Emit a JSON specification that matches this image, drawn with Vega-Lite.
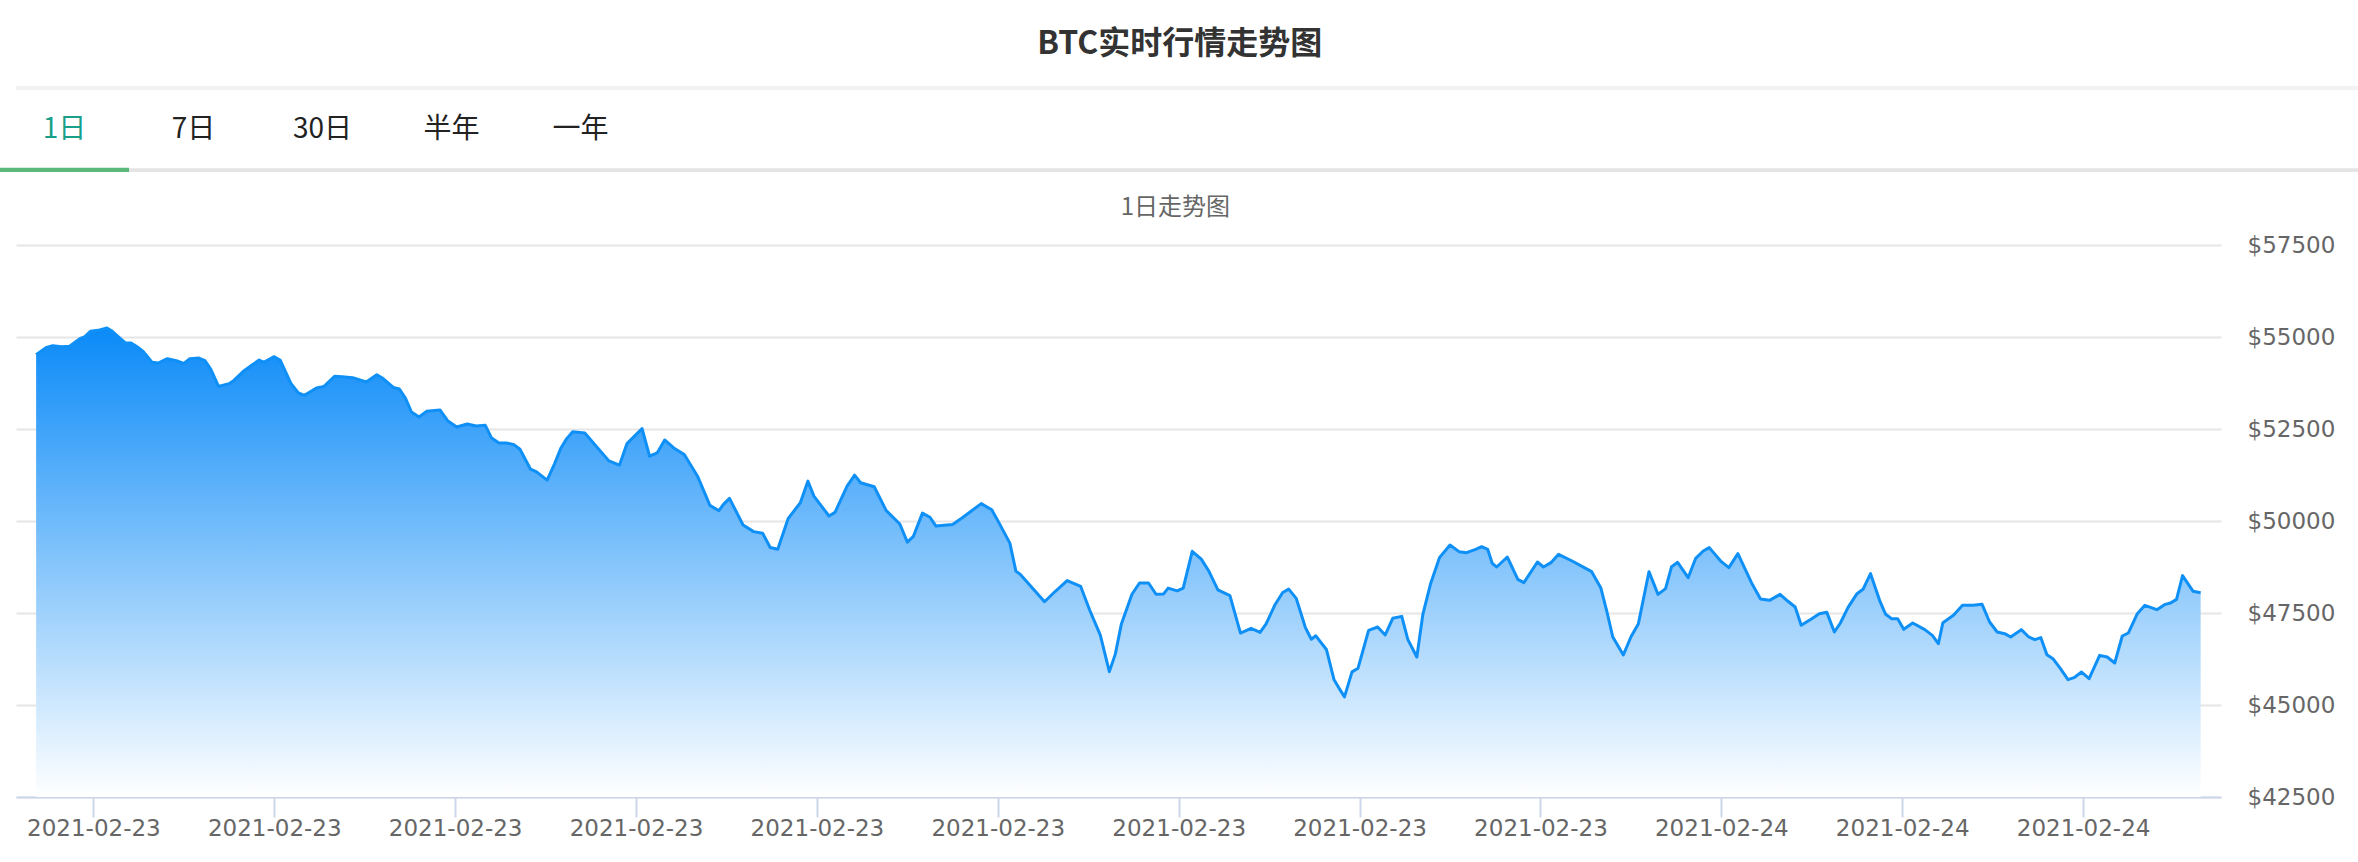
{
  "$schema": "https://vega.github.io/schema/vega-lite/v6.json",
  "background": "#ffffff",
  "padding": {"left": 0, "top": 27, "right": 0, "bottom": 0},
  "config": {"view": {"stroke": null}},
  "title": {"text": "BTC实时行情走势图", "font": "Noto Sans CJK SC", "fontSize": 32, "fontWeight": "bold", "color": "#333333", "anchor": "middle", "offset": 26},
  "spacing": 24,
  "vconcat": [
    {
      "width": 2342,
      "height": 84,
      "data": {"values": [
        {"tab": "1日", "selected": true},
        {"tab": "7日", "selected": false},
        {"tab": "30日", "selected": false},
        {"tab": "半年", "selected": false},
        {"tab": "一年", "selected": false}
      ]},
      "layer": [
        {"mark": {"type": "rule", "color": "#f2f2f2", "strokeWidth": 3},
         "encoding": {"y": {"datum": 1, "type": "quantitative", "scale": {"domain": [0, 1]}, "axis": null}}},
        {"mark": {"type": "rule", "color": "#e4e4e4", "strokeWidth": 3},
         "encoding": {"y": {"datum": 0.02, "type": "quantitative", "scale": {"domain": [0, 1]}, "axis": null}}},
        {"transform": [{"filter": "datum.selected"}],
         "mark": {"type": "bar", "color": "#5cb87a"},
         "encoding": {
           "x": {"field": "tab", "type": "nominal", "scale": {"domain": ["1日", "7日", "30日", "半年", "一年"], "range": [-16, 629], "paddingInner": 0, "paddingOuter": 0}, "axis": null},
           "y": {"datum": 0, "type": "quantitative", "scale": {"domain": [0, 1]}, "axis": null},
           "y2": {"datum": 0.05}
         }},
        {"mark": {"type": "text", "font": "Noto Sans CJK SC", "fontSize": 28},
         "encoding": {
           "x": {"field": "tab", "type": "nominal", "scale": {"domain": ["1日", "7日", "30日", "半年", "一年"], "range": [-16, 629], "paddingInner": 0, "paddingOuter": 0}, "axis": null},
           "text": {"field": "tab"},
           "color": {"condition": {"test": "datum.selected", "value": "#1aa08a"}, "value": "#222222"}
         }}
      ]
    },
    {
      "width": 2205,
      "height": 552,
      "title": {"text": "1日走势图", "font": "Noto Sans CJK SC", "fontSize": 24, "fontWeight": "normal", "color": "#666666", "anchor": "middle", "frame": "bounds", "offset": 14},
      "data": {"values": [
{"t":"2021-02-23T05:22","p":54520},{"t":"2021-02-23T05:29","p":54719},{"t":"2021-02-23T05:33","p":54764},{"t":"2021-02-23T05:39","p":54737},{"t":"2021-02-23T05:44","p":54746},{"t":"2021-02-23T05:51","p":54955},{"t":"2021-02-23T05:54","p":55000},{"t":"2021-02-23T05:58","p":55154},{"t":"2021-02-23T06:03","p":55181},{"t":"2021-02-23T06:09","p":55245},{"t":"2021-02-23T06:12","p":55172},{"t":"2021-02-23T06:17","p":54991},{"t":"2021-02-23T06:21","p":54846},{"t":"2021-02-23T06:25","p":54837},{"t":"2021-02-23T06:29","p":54737},{"t":"2021-02-23T06:33","p":54610},{"t":"2021-02-23T06:39","p":54311},{"t":"2021-02-23T06:43","p":54293},{"t":"2021-02-23T06:49","p":54411},{"t":"2021-02-23T06:55","p":54357},{"t":"2021-02-23T07:00","p":54284},{"t":"2021-02-23T07:04","p":54411},{"t":"2021-02-23T07:10","p":54429},{"t":"2021-02-23T07:14","p":54357},{"t":"2021-02-23T07:18","p":54112},{"t":"2021-02-23T07:23","p":53659},{"t":"2021-02-23T07:30","p":53732},{"t":"2021-02-23T07:33","p":53813},{"t":"2021-02-23T07:40","p":54085},{"t":"2021-02-23T07:45","p":54230},{"t":"2021-02-23T07:50","p":54375},{"t":"2021-02-23T07:53","p":54311},{"t":"2021-02-23T08:00","p":54465},{"t":"2021-02-23T08:04","p":54366},{"t":"2021-02-23T08:11","p":53741},{"t":"2021-02-23T08:16","p":53478},{"t":"2021-02-23T08:20","p":53414},{"t":"2021-02-23T08:28","p":53614},{"t":"2021-02-23T08:33","p":53659},{"t":"2021-02-23T08:40","p":53931},{"t":"2021-02-23T08:45","p":53922},{"t":"2021-02-23T08:52","p":53895},{"t":"2021-02-23T09:01","p":53777},{"t":"2021-02-23T09:08","p":53976},{"t":"2021-02-23T09:12","p":53877},{"t":"2021-02-23T09:19","p":53632},{"t":"2021-02-23T09:23","p":53587},{"t":"2021-02-23T09:27","p":53342},{"t":"2021-02-23T09:31","p":52962},{"t":"2021-02-23T09:36","p":52826},{"t":"2021-02-23T09:41","p":52980},{"t":"2021-02-23T09:50","p":53016},{"t":"2021-02-23T09:55","p":52726},{"t":"2021-02-23T10:01","p":52554},{"t":"2021-02-23T10:08","p":52636},{"t":"2021-02-23T10:14","p":52581},{"t":"2021-02-23T10:20","p":52599},{"t":"2021-02-23T10:24","p":52265},{"t":"2021-02-23T10:29","p":52121},{"t":"2021-02-23T10:34","p":52121},{"t":"2021-02-23T10:39","p":52076},{"t":"2021-02-23T10:43","p":51949},{"t":"2021-02-23T10:50","p":51408},{"t":"2021-02-23T10:54","p":51336},{"t":"2021-02-23T11:01","p":51110},{"t":"2021-02-23T11:06","p":51561},{"t":"2021-02-23T11:10","p":51968},{"t":"2021-02-23T11:14","p":52238},{"t":"2021-02-23T11:18","p":52428},{"t":"2021-02-23T11:26","p":52392},{"t":"2021-02-23T11:33","p":52058},{"t":"2021-02-23T11:42","p":51634},{"t":"2021-02-23T11:49","p":51516},{"t":"2021-02-23T11:54","p":52103},{"t":"2021-02-23T11:59","p":52310},{"t":"2021-02-23T12:04","p":52509},{"t":"2021-02-23T12:09","p":51760},{"t":"2021-02-23T12:14","p":51850},{"t":"2021-02-23T12:19","p":52202},{"t":"2021-02-23T12:25","p":51986},{"t":"2021-02-23T12:32","p":51805},{"t":"2021-02-23T12:41","p":51200},{"t":"2021-02-23T12:49","p":50424},{"t":"2021-02-23T12:55","p":50280},{"t":"2021-02-23T12:58","p":50451},{"t":"2021-02-23T13:02","p":50614},{"t":"2021-02-23T13:11","p":49892},{"t":"2021-02-23T13:18","p":49711},{"t":"2021-02-23T13:24","p":49666},{"t":"2021-02-23T13:29","p":49278},{"t":"2021-02-23T13:34","p":49233},{"t":"2021-02-23T13:41","p":50072},{"t":"2021-02-23T13:49","p":50496},{"t":"2021-02-23T13:54","p":51083},{"t":"2021-02-23T13:58","p":50677},{"t":"2021-02-23T14:08","p":50136},{"t":"2021-02-23T14:12","p":50235},{"t":"2021-02-23T14:20","p":50948},{"t":"2021-02-23T14:25","p":51246},{"t":"2021-02-23T14:29","p":51038},{"t":"2021-02-23T14:38","p":50930},{"t":"2021-02-23T14:46","p":50280},{"t":"2021-02-23T14:55","p":49919},{"t":"2021-02-23T15:00","p":49426},{"t":"2021-02-23T15:04","p":49583},{"t":"2021-02-23T15:10","p":50213},{"t":"2021-02-23T15:15","p":50102},{"t":"2021-02-23T15:19","p":49861},{"t":"2021-02-23T15:30","p":49907},{"t":"2021-02-23T15:36","p":50074},{"t":"2021-02-23T15:42","p":50259},{"t":"2021-02-23T15:49","p":50472},{"t":"2021-02-23T15:56","p":50306},{"t":"2021-02-23T16:01","p":49935},{"t":"2021-02-23T16:08","p":49398},{"t":"2021-02-23T16:12","p":48639},{"t":"2021-02-23T16:15","p":48546},{"t":"2021-02-23T16:31","p":47806},{"t":"2021-02-23T16:38","p":48083},{"t":"2021-02-23T16:46","p":48380},{"t":"2021-02-23T16:55","p":48222},{"t":"2021-02-23T17:01","p":47574},{"t":"2021-02-23T17:08","p":46898},{"t":"2021-02-23T17:14","p":45907},{"t":"2021-02-23T17:18","p":46389},{"t":"2021-02-23T17:22","p":47204},{"t":"2021-02-23T17:29","p":48009},{"t":"2021-02-23T17:34","p":48315},{"t":"2021-02-23T17:40","p":48315},{"t":"2021-02-23T17:45","p":48009},{"t":"2021-02-23T17:50","p":48019},{"t":"2021-02-23T17:53","p":48176},{"t":"2021-02-23T17:59","p":48102},{"t":"2021-02-23T18:03","p":48176},{"t":"2021-02-23T18:09","p":49176},{"t":"2021-02-23T18:15","p":48963},{"t":"2021-02-23T18:20","p":48639},{"t":"2021-02-23T18:26","p":48130},{"t":"2021-02-23T18:34","p":47972},{"t":"2021-02-23T18:41","p":46954},{"t":"2021-02-23T18:48","p":47083},{"t":"2021-02-23T18:54","p":46972},{"t":"2021-02-23T18:58","p":47204},{"t":"2021-02-23T19:04","p":47732},{"t":"2021-02-23T19:09","p":48056},{"t":"2021-02-23T19:13","p":48148},{"t":"2021-02-23T19:18","p":47898},{"t":"2021-02-23T19:24","p":47111},{"t":"2021-02-23T19:28","p":46787},{"t":"2021-02-23T19:31","p":46880},{"t":"2021-02-23T19:38","p":46509},{"t":"2021-02-23T19:43","p":45695},{"t":"2021-02-23T19:47","p":45417},{"t":"2021-02-23T19:50","p":45220},{"t":"2021-02-23T19:55","p":45900},{"t":"2021-02-23T19:59","p":46000},{"t":"2021-02-23T20:06","p":47029},{"t":"2021-02-23T20:12","p":47119},{"t":"2021-02-23T20:17","p":46902},{"t":"2021-02-23T20:22","p":47355},{"t":"2021-02-23T20:28","p":47409},{"t":"2021-02-23T20:32","p":46784},{"t":"2021-02-23T20:38","p":46304},{"t":"2021-02-23T20:42","p":47464},{"t":"2021-02-23T20:47","p":48279},{"t":"2021-02-23T20:53","p":49004},{"t":"2021-02-23T21:00","p":49348},{"t":"2021-02-23T21:06","p":49167},{"t":"2021-02-23T21:11","p":49140},{"t":"2021-02-23T21:17","p":49230},{"t":"2021-02-23T21:21","p":49303},{"t":"2021-02-23T21:25","p":49230},{"t":"2021-02-23T21:28","p":48850},{"t":"2021-02-23T21:31","p":48750},{"t":"2021-02-23T21:38","p":49022},{"t":"2021-02-23T21:45","p":48415},{"t":"2021-02-23T21:49","p":48324},{"t":"2021-02-23T21:58","p":48886},{"t":"2021-02-23T22:02","p":48750},{"t":"2021-02-23T22:07","p":48868},{"t":"2021-02-23T22:12","p":49095},{"t":"2021-02-23T22:21","p":48913},{"t":"2021-02-23T22:30","p":48714},{"t":"2021-02-23T22:34","p":48623},{"t":"2021-02-23T22:40","p":48189},{"t":"2021-02-23T22:44","p":47554},{"t":"2021-02-23T22:48","p":46848},{"t":"2021-02-23T22:55","p":46358},{"t":"2021-02-23T23:00","p":46848},{"t":"2021-02-23T23:05","p":47210},{"t":"2021-02-23T23:12","p":48623},{"t":"2021-02-23T23:18","p":48007},{"t":"2021-02-23T23:23","p":48161},{"t":"2021-02-23T23:27","p":48759},{"t":"2021-02-23T23:31","p":48877},{"t":"2021-02-23T23:38","p":48460},{"t":"2021-02-23T23:43","p":48986},{"t":"2021-02-23T23:48","p":49185},{"t":"2021-02-23T23:52","p":49276},{"t":"2021-02-24T00:00","p":48895},{"t":"2021-02-24T00:05","p":48732},{"t":"2021-02-24T00:11","p":49113},{"t":"2021-02-24T00:20","p":48324},{"t":"2021-02-24T00:26","p":47881},{"t":"2021-02-24T00:32","p":47844},{"t":"2021-02-24T00:39","p":48007},{"t":"2021-02-24T00:44","p":47826},{"t":"2021-02-24T00:49","p":47663},{"t":"2021-02-24T00:53","p":47165},{"t":"2021-02-24T01:00","p":47346},{"t":"2021-02-24T01:05","p":47482},{"t":"2021-02-24T01:10","p":47518},{"t":"2021-02-24T01:15","p":46984},{"t":"2021-02-24T01:19","p":47228},{"t":"2021-02-24T01:24","p":47645},{"t":"2021-02-24T01:30","p":48025},{"t":"2021-02-24T01:34","p":48143},{"t":"2021-02-24T01:39","p":48569},{"t":"2021-02-24T01:45","p":47844},{"t":"2021-02-24T01:49","p":47464},{"t":"2021-02-24T01:53","p":47346},{"t":"2021-02-24T01:57","p":47346},{"t":"2021-02-24T02:01","p":47056},{"t":"2021-02-24T02:07","p":47228},{"t":"2021-02-24T02:15","p":47047},{"t":"2021-02-24T02:20","p":46893},{"t":"2021-02-24T02:24","p":46666},{"t":"2021-02-24T02:27","p":47237},{"t":"2021-02-24T02:34","p":47437},{"t":"2021-02-24T02:40","p":47708},{"t":"2021-02-24T02:47","p":47708},{"t":"2021-02-24T02:53","p":47736},{"t":"2021-02-24T02:58","p":47255},{"t":"2021-02-24T03:03","p":46984},{"t":"2021-02-24T03:08","p":46938},{"t":"2021-02-24T03:12","p":46848},{"t":"2021-02-24T03:19","p":47047},{"t":"2021-02-24T03:24","p":46848},{"t":"2021-02-24T03:28","p":46775},{"t":"2021-02-24T03:32","p":46830},{"t":"2021-02-24T03:36","p":46368},{"t":"2021-02-24T03:40","p":46259},{"t":"2021-02-24T03:45","p":45987},{"t":"2021-02-24T03:50","p":45688},{"t":"2021-02-24T03:54","p":45742},{"t":"2021-02-24T03:59","p":45896},{"t":"2021-02-24T04:04","p":45715},{"t":"2021-02-24T04:11","p":46349},{"t":"2021-02-24T04:16","p":46304},{"t":"2021-02-24T04:21","p":46141},{"t":"2021-02-24T04:26","p":46875},{"t":"2021-02-24T04:30","p":46956},{"t":"2021-02-24T04:36","p":47482},{"t":"2021-02-24T04:41","p":47708},{"t":"2021-02-24T04:49","p":47591},{"t":"2021-02-24T04:54","p":47727},{"t":"2021-02-24T04:58","p":47772},{"t":"2021-02-24T05:02","p":47871},{"t":"2021-02-24T05:06","p":48515},{"t":"2021-02-24T05:13","p":48089},{"t":"2021-02-24T05:18","p":48053}
      ]},
      "encoding": {
        "x": {"field": "t", "type": "temporal",
              "scale": {"domain": [{"year": 2021, "month": 2, "date": 23, "hours": 5, "minutes": 8, "seconds": 39}, {"year": 2021, "month": 2, "date": 24, "hours": 5, "minutes": 31, "seconds": 30}], "nice": false},
              "axis": {"orient": "bottom", "format": "%Y-%m-%d",
                       "values": [
                         {"year": 2021, "month": 2, "date": 23, "hours": 6},
                         {"year": 2021, "month": 2, "date": 23, "hours": 8},
                         {"year": 2021, "month": 2, "date": 23, "hours": 10},
                         {"year": 2021, "month": 2, "date": 23, "hours": 12},
                         {"year": 2021, "month": 2, "date": 23, "hours": 14},
                         {"year": 2021, "month": 2, "date": 23, "hours": 16},
                         {"year": 2021, "month": 2, "date": 23, "hours": 18},
                         {"year": 2021, "month": 2, "date": 23, "hours": 20},
                         {"year": 2021, "month": 2, "date": 23, "hours": 22},
                         {"year": 2021, "month": 2, "date": 24, "hours": 0},
                         {"year": 2021, "month": 2, "date": 24, "hours": 2},
                         {"year": 2021, "month": 2, "date": 24, "hours": 4}
                       ],
                       "labelFont": "DejaVu Sans", "labelFontSize": 23, "labelColor": "#666666", "labelPadding": 0,
                       "tickColor": "#ccd6eb", "tickSize": 20, "tickWidth": 2, "domainColor": "#ccd6eb", "domainWidth": 2, "grid": false, "title": null}},
        "y": {"field": "p", "type": "quantitative",
              "scale": {"domain": [42500, 57500], "nice": false, "zero": false},
              "axis": {"orient": "right", "values": [42500, 45000, 47500, 50000, 52500, 55000, 57500], "labelExpr": "'$' + datum.value",
                       "labelFont": "DejaVu Sans", "labelFontSize": 23, "labelColor": "#666666", "labelPadding": 26,
                       "ticks": false, "domain": false, "grid": true, "gridColor": "#e6e6e6", "gridWidth": 2, "title": null}}
      },
      "layer": [
        {"mark": {"type": "area", "color": {"gradient": "linear", "x1": 0, "y1": 0, "x2": 0, "y2": 1, "stops": [{"offset": 0, "color": "#0a8af8"}, {"offset": 1, "color": "#ffffff"}]}},
         "encoding": {"y2": {"datum": 42500}}},
        {"mark": {"type": "line", "color": "#0f90f7", "strokeWidth": 3, "strokeJoin": "round"}, "encoding": {}}
      ]
    }
  ]
}
